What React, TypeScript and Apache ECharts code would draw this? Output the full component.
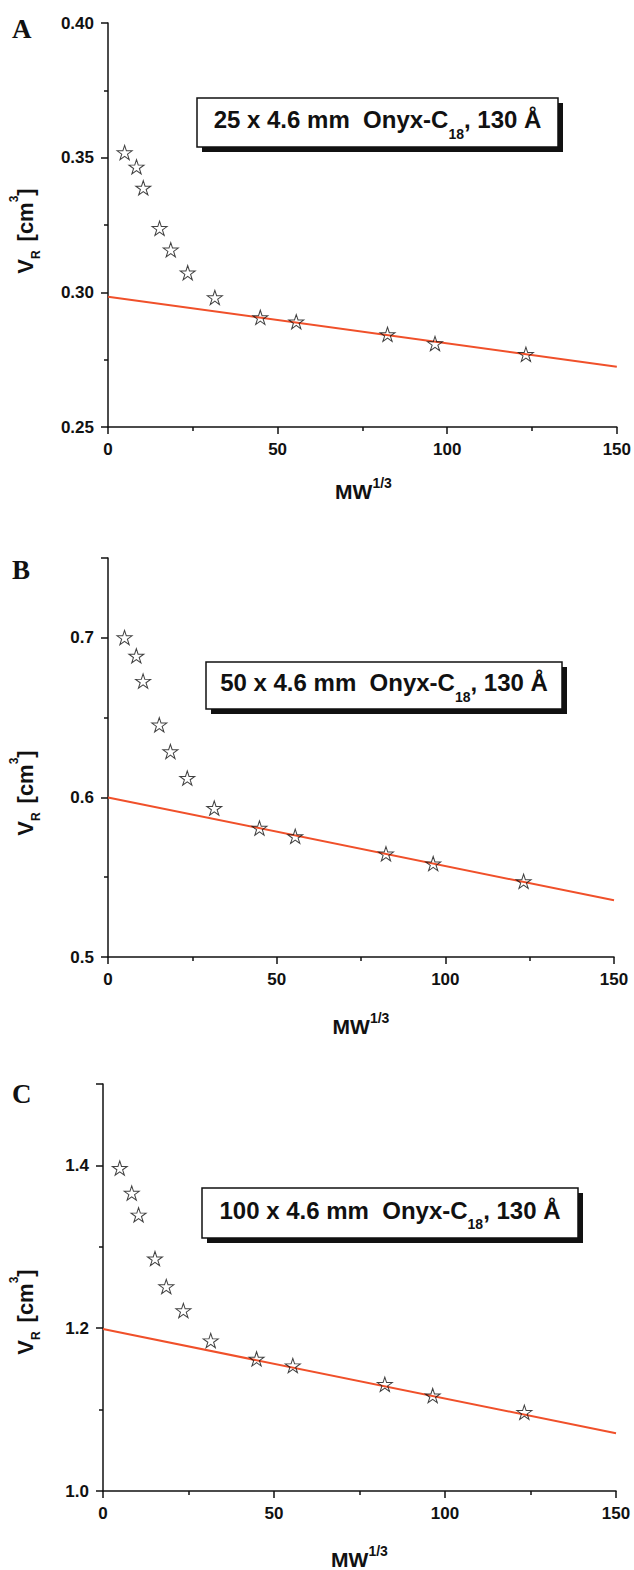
import React, { useEffect, useRef } from "react";
import * as echarts from "echarts";

// ---------- data ----------
const mwCubeRoot = [4.9, 8.4, 10.4, 15.2, 18.5, 23.5, 31.5, 44.9, 55.5, 82.4, 96.4, 123.2];
const vrA = [0.3519, 0.3466, 0.3388, 0.3238, 0.3158, 0.3073, 0.2981, 0.2907, 0.2891, 0.2844, 0.281, 0.277];
const vrB = [0.7002, 0.6887, 0.6729, 0.6455, 0.6288, 0.6121, 0.5933, 0.5808, 0.5756, 0.5647, 0.5585, 0.5474];
const vrC = [1.3967, 1.3661, 1.3393, 1.2855, 1.2512, 1.2217, 1.1848, 1.1623, 1.1541, 1.1311, 1.1172, 1.0967];
const fitX = [0, 150];
const fitA = [0.2984, 0.2724];
const fitB = [0.6, 0.5355];
const fitC = [1.199, 1.0709];
const xMajorTicks = [0, 50, 100, 150];
const yMajorA = [0.25, 0.3, 0.35, 0.4];
const yMajorB = [0.5, 0.6, 0.7];
const yMajorC = [1.0, 1.2, 1.4];
const columnNames = ["25 x 4.6 mm  Onyx-C", "50 x 4.6 mm  Onyx-C", "100 x 4.6 mm  Onyx-C"];
const columnSub = "18";
const columnTail = ", 130 Å";
const panelLetters = ["A", "B", "C"];

// ---------- layout ----------
const SANS = '"Liberation Sans", Arial, Helvetica, sans-serif';
const SERIF = '"Liberation Serif", "Times New Roman", serif';
const INK = "#111111";
const FIT_COLOR = "#f0502a";
const STAR =
  "path://M50 0 L61.23 34.55 L97.55 34.55 L68.17 55.9 L79.39 90.45 L50 69.1 L20.61 90.45 L31.83 55.9 L2.45 34.55 L38.77 34.55 Z";

const panels = [
  {
    grid: { left: 108, top: 23, width: 511, height: 404 },
    yMin: 0.25, yMax: 0.4, yStep: 0.05, yMajor: yMajorA, dec: 2,
    vals: vrA, fit: fitA,
    letterY: 29, box: { x: 197, y: 98, w: 361, h: 49 },
    xTitleY: 491, yTitleY: 231,
  },
  {
    grid: { left: 108, top: 558, width: 506, height: 399 },
    yMin: 0.5, yMax: 0.75, yStep: 0.1, yMajor: yMajorB, dec: 1,
    vals: vrB, fit: fitB,
    letterY: 570, box: { x: 206, y: 662, w: 356, h: 47 },
    xTitleY: 1026, yTitleY: 793,
  },
  {
    grid: { left: 103, top: 1084, width: 513, height: 407 },
    yMin: 1.0, yMax: 1.5, yStep: 0.2, yMajor: yMajorC, dec: 1,
    vals: vrC, fit: fitC,
    letterY: 1094, box: { x: 202, y: 1188, w: 376, h: 50 },
    xTitleY: 1559, yTitleY: 1312,
  },
];

const labelStyle = {
  fontSize: 17,
  fontWeight: "bold" as const,
  fontFamily: SANS,
  color: INK,
};

const isIn = (list: number[], v: number) => list.some((m) => Math.abs(m - v) < 1e-9);

function buildOption() {
  const grids: any[] = [];
  const xAxes: any[] = [];
  const yAxes: any[] = [];
  const series: any[] = [];
  const graphics: any[] = [];

  panels.forEach((p, i) => {
    grids.push({ ...p.grid });
    xAxes.push({
      type: "value", gridIndex: i, min: 0, max: 150, interval: 50, position: "bottom",
      axisLine: { show: true, onZero: false, lineStyle: { color: INK, width: 1.5 } },
      axisTick: { show: true, inside: false, length: 7, lineStyle: { color: INK, width: 1.5 } },
      minorTick: { show: true, splitNumber: 2, length: 4, lineStyle: { color: INK, width: 1.5 } },
      axisLabel: {
        show: true, margin: 14, ...labelStyle,
        formatter: (v: number) => (isIn(xMajorTicks, v) ? String(v) : ""),
      },
      splitLine: { show: false },
      minorSplitLine: { show: false },
    });
    yAxes.push({
      type: "value", gridIndex: i, min: p.yMin, max: p.yMax, interval: p.yStep, position: "left",
      axisLine: { show: true, onZero: false, lineStyle: { color: INK, width: 1.5 } },
      axisTick: { show: true, inside: false, length: 7, lineStyle: { color: INK, width: 1.5 } },
      minorTick: { show: true, splitNumber: 2, length: 4, lineStyle: { color: INK, width: 1.5 } },
      axisLabel: {
        show: true, margin: 14, ...labelStyle,
        formatter: (v: number) => (isIn(p.yMajor, v) ? v.toFixed(p.dec) : ""),
      },
      splitLine: { show: false },
      minorSplitLine: { show: false },
    });

    series.push({
      type: "line", xAxisIndex: i, yAxisIndex: i,
      data: fitX.map((x, j) => [x, p.fit[j]]),
      showSymbol: false, symbol: "none",
      lineStyle: { color: FIT_COLOR, width: 2 },
      z: 2, silent: true,
    });
    series.push({
      type: "scatter", xAxisIndex: i, yAxisIndex: i,
      data: mwCubeRoot.map((x, j) => [x, p.vals[j]]),
      symbol: STAR, symbolSize: [15, 14.3],
      itemStyle: { color: "rgba(255,255,255,0)", borderColor: INK, borderWidth: 1 },
      z: 3, silent: true,
    });

    graphics.push({
      type: "text", x: 12, y: p.letterY,
      style: { text: panelLetters[i], font: `bold 27px ${SERIF}`, fill: INK, verticalAlign: "middle", align: "left" },
    });
    const b = p.box;
    graphics.push({
      type: "rect", shape: { x: b.x + 5, y: b.y + 5, width: b.w, height: b.h },
      style: { fill: INK },
    });
    graphics.push({
      type: "rect", shape: { x: b.x, y: b.y, width: b.w, height: b.h },
      style: { fill: "#ffffff", stroke: INK, lineWidth: 1.5 },
    });
    graphics.push({
      type: "text", x: b.x + b.w / 2, y: b.y + b.h / 2 - 3,
      style: {
        text: `{m|${columnNames[i]}}{s|${columnSub}}{m|${columnTail}}`,
        align: "center", verticalAlign: "middle",
        rich: {
          m: { fontSize: 24, fontWeight: "bold", fontFamily: SANS, fill: INK, lineHeight: 42 },
          s: { fontSize: 14, fontWeight: "bold", fontFamily: SANS, fill: INK, lineHeight: 14, verticalAlign: "bottom" },
        },
      },
    });
    graphics.push({
      type: "text", x: p.grid.left + p.grid.width / 2, y: p.xTitleY,
      style: {
        text: "{m|MW}{p|1/3}", align: "center", verticalAlign: "middle",
        rich: {
          m: { fontSize: 21, fontWeight: "bold", fontFamily: SANS, fill: INK, lineHeight: 31 },
          p: { fontSize: 14, fontWeight: "bold", fontFamily: SANS, fill: INK, lineHeight: 14, verticalAlign: "top" },
        },
      },
    });
    graphics.push({
      type: "text", x: 25, y: p.yTitleY, rotation: Math.PI / 2,
      style: {
        text: "{m|V}{s|R}{g| }{m|[cm}{p|3}{m|]}", align: "center", verticalAlign: "middle",
        rich: {
          m: { fontSize: 22, fontWeight: "bold", fontFamily: SANS, fill: INK, lineHeight: 34 },
          g: { fontSize: 32, fontFamily: SANS, fill: INK, lineHeight: 34 },
          s: { fontSize: 12, fontWeight: "bold", fontFamily: SANS, fill: INK, lineHeight: 12, verticalAlign: "bottom" },
          p: { fontSize: 12, fontWeight: "bold", fontFamily: SANS, fill: INK, lineHeight: 12, verticalAlign: "top" },
        },
      },
    });
  });

  return {
    animation: false,
    backgroundColor: "#ffffff",
    grid: grids,
    xAxis: xAxes,
    yAxis: yAxes,
    series,
    graphic: { elements: graphics },
  };
}

export default function App() {
  const ref = useRef<HTMLDivElement>(null);
  useEffect(() => {
    document.body.style.margin = "0";
    if (!ref.current) return;
    const chart = echarts.init(ref.current, undefined, { renderer: "svg" });
    chart.setOption(buildOption() as any);
    return () => chart.dispose();
  }, []);
  return <div ref={ref} style={{ width: 634, height: 1570 }} />;
}
